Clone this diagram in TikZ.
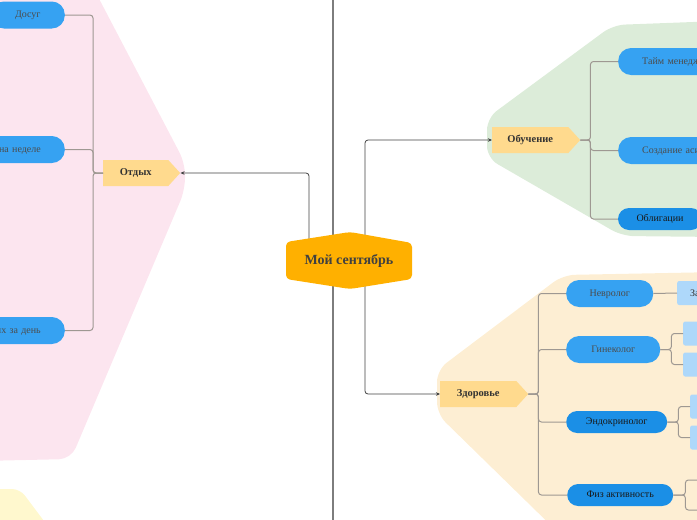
\documentclass[tikz,border=0pt]{standalone}
\usepackage{fontspec}
\setmainfont{Liberation Serif}
\usetikzlibrary{shapes.symbols,arrows.meta}

\definecolor{pinkbg}{RGB}{252,229,239}
\definecolor{greenbg}{RGB}{220,236,217}
\definecolor{orangebg}{RGB}{253,238,211}
\definecolor{yellowbg}{RGB}{255,248,206}
\definecolor{topicorange}{RGB}{255,176,0}
\definecolor{branchorange}{RGB}{255,218,142}
\definecolor{pillblue}{RGB}{54,162,242}
\definecolor{pilldark}{RGB}{27,143,230}
\definecolor{leafblue}{RGB}{174,216,250}
\definecolor{linkgray}{RGB}{64,64,64}
\definecolor{bracketgray}{RGB}{158,152,146}
\definecolor{rulegray}{RGB}{125,125,125}

\tikzset{
	branch/.style={shape=signal, signal to=east, signal pointer angle=95, fill=branchorange,
		minimum width=77pt, minimum height=26pt, inner sep=0pt, anchor=west,
		text height=7pt, text depth=2pt,
		font=\fontsize{10.5}{12}\selectfont\bfseries, text=black!80},
	pill/.style={rectangle, rounded corners=13pt, fill=pillblue, minimum height=27pt,
		inner sep=0pt, text height=7pt, text depth=2pt,
		font=\fontsize{10}{12}\selectfont, text=black!70},
	pilldk/.style={pill, rounded corners=11pt, fill=pilldark, minimum height=22pt, text=black!90},
	leaf/.style={rectangle, fill=leafblue, rounded corners=2pt, minimum height=24pt,
		minimum width=40pt, inner sep=0pt, font=\fontsize{10}{12}\selectfont, text=black!80},
	link/.style={draw=linkgray, line width=0.8pt, rounded corners=3pt, -{Stealth[length=4pt,width=3.5pt]}},
	bracket/.style={draw=bracketgray, line width=1pt, rounded corners=3pt},
}

\begin{document}
\begin{tikzpicture}[x=1pt, y=-1pt]
	\useasboundingbox (0,0) rectangle (697,520);
	\clip (0,0) rectangle (697,520);

	\fill[pinkbg, rounded corners=12pt] (-20,-30) -- (84,-30) -- (185,163) -- (185,190) -- (71,459) -- (-20,461) -- cycle;
	\fill[yellowbg, rounded corners=8pt] (-20,489) -- (20,489) -- (62,545) -- (-20,545) -- cycle;
	\fill[greenbg, rounded corners=12pt] (613,25) -- (720,21) -- (720,237) -- (622,236) -- (487,158) -- (487,118) -- cycle;
	\fill[orangebg, rounded corners=12pt] (563,275) -- (720,272) -- (720,545) -- (571,545) -- (437,414) -- (437,370) -- cycle;

	\draw[rulegray, line width=1.2pt] (333,-5) -- (333,525);

	\node[branch] (rest) at (103,173) {Отдых};
	\node[branch, minimum width=88pt] (study) at (492,140) {Обучение};
	\node[branch, minimum width=88pt] (health) at (440,394) {Здоровье};

	\node[pill, minimum width=74pt, anchor=east] (dosug) at (65,15) {Досуг};
	\node[pill, text width=90pt, align=right, inner xsep=24pt, anchor=east] (week) at (65,149.5) {на неделе};
	\node[pill, text width=90pt, align=right, inner xsep=24pt, anchor=east] (day) at (65,330.5) {их за день};

	\node[pill, text width=80pt, align=left, inner xsep=24pt, anchor=west] (time) at (618,61.5) {Тайм менедж};
	\node[pill, text width=80pt, align=left, inner xsep=24pt, anchor=west] (create) at (618,150.5) {Создание аси};
	\node[pilldk, minimum width=84pt] (bonds) at (660,219) {Облигации};

	\node[pill, minimum width=87pt, anchor=west] (neuro) at (566,293.5) {Невролог};
	\node[pill, minimum width=94pt, anchor=west] (gyn) at (566,349.5) {Гинеколог};
	\node[pilldk, minimum width=101pt, anchor=west] (endo) at (566,422) {Эндокринолог};
	\node[pilldk, minimum width=106pt, anchor=west] (fiz) at (567,495) {Физ активность};

	\node[leaf, text width=30pt, align=left, inner xsep=13pt, anchor=west] (neuro1) at (677,293) {За};
	\node[leaf, anchor=west] (gyn1) at (683,333.5) {};
	\node[leaf, anchor=west] (gyn2) at (683,364.5) {};
	\node[leaf, anchor=west] (endo1) at (690,406.5) {};
	\node[leaf, anchor=west] (endo2) at (690,437.5) {};
	\coordinate (fiz1) at (705,480);
	\coordinate (fiz2) at (705,510);

	\draw[bracket] (rest.west) -- ++(-10,0) |- (dosug.east);
	\draw[bracket] (rest.west) -- ++(-10,0) |- (week.east);
	\draw[bracket] (rest.west) -- ++(-10,0) |- (day.east);

	\draw[bracket] (study.east) -- ++(10,0) |- (time.west);
	\draw[bracket] (study.east) -- ++(10,0) |- (create.west);
	\draw[bracket] (study.east) -- ++(10,0) |- (bonds.west);

	\draw[bracket] (health.east) -- ++(10,0) |- (neuro.west);
	\draw[bracket] (health.east) -- ++(10,0) |- (gyn.west);
	\draw[bracket] (health.east) -- ++(10,0) |- (endo.west);
	\draw[bracket] (health.east) -- ++(10,0) |- (fiz.west);

	\draw[bracket] (neuro.east) -- (neuro1.west);
	\draw[bracket] (gyn.east) -- ++(11,0) |- (gyn1.west);
	\draw[bracket] (gyn.east) -- ++(11,0) |- (gyn2.west);
	\draw[bracket] (endo.east) -- ++(11,0) |- (endo1.west);
	\draw[bracket] (endo.east) -- ++(11,0) |- (endo2.west);
	\draw[bracket] (fiz.east) -- ++(12,0) |- (fiz1);
	\draw[bracket] (fiz.east) -- ++(12,0) |- (fiz2);

	\coordinate (s1) at (309,250);
	\coordinate (s2) at (365,250);
	\coordinate (s3) at (365,270);
	\draw[link] (s1) |- (rest.east);
	\draw[link] (s2) |- (study.west);
	\draw[link] (s3) |- (health.west);

	\fill[topicorange, rounded corners=4pt] (286,242) -- (350,232) -- (412,243) -- (412,279) -- (350,289) -- (286,279) -- cycle;
	\node[font=\fontsize{14}{16}\selectfont\bfseries, text=black!75, minimum width=126pt, minimum height=57pt] (sept) at (349,260.5) {Мой сентябрь};
\end{tikzpicture}
\end{document}
